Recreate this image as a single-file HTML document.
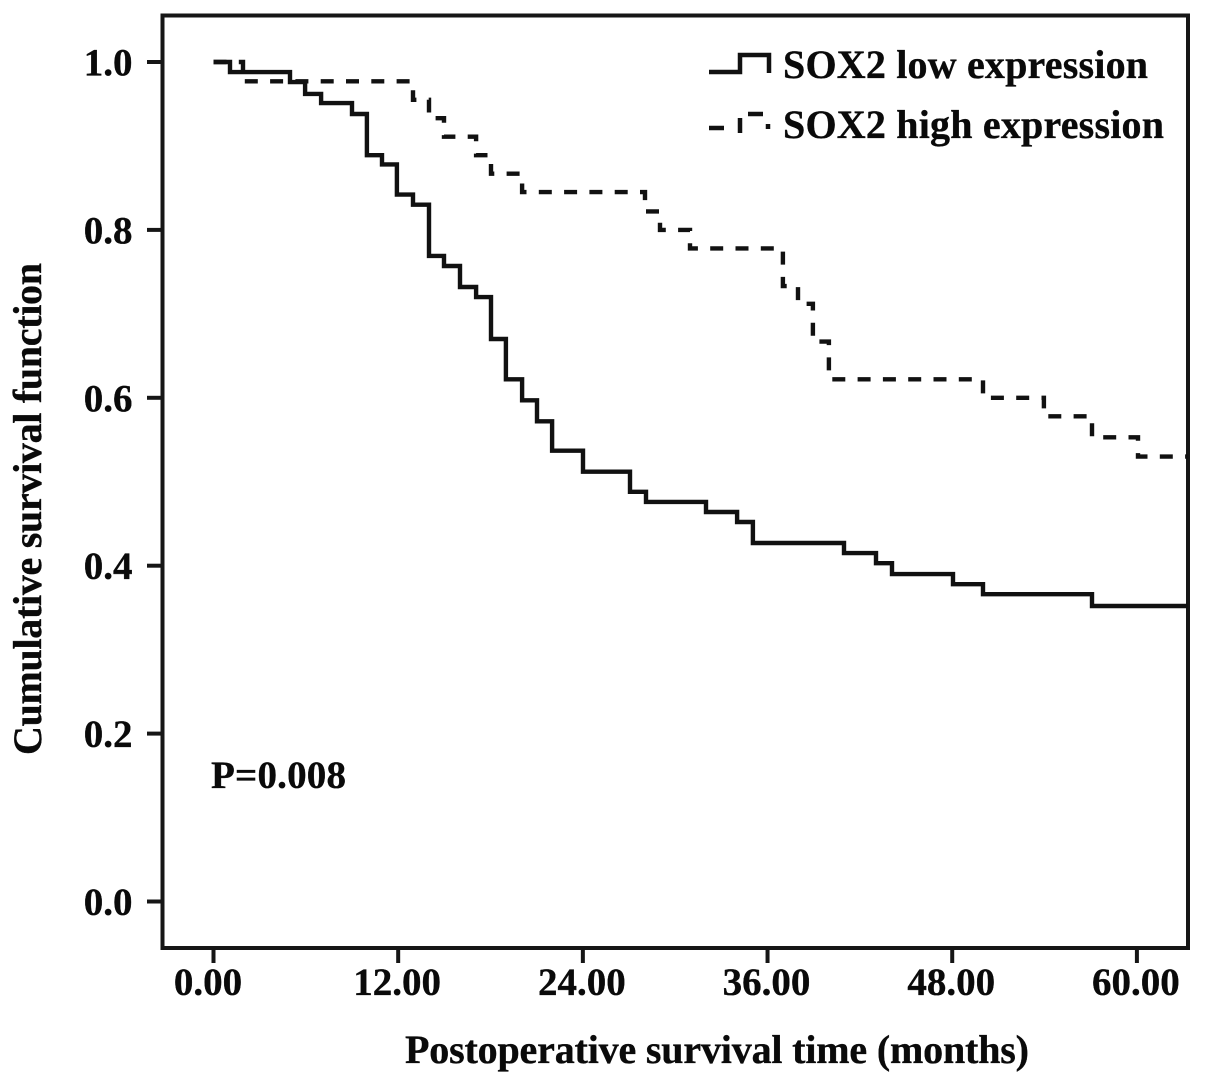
<!DOCTYPE html>
<html>
<head>
<meta charset="utf-8">
<title>Kaplan-Meier survival curve by SOX2 expression</title>
<style>
html,body{margin:0;padding:0;background:#fff;}
svg{display:block;}
text{font-family:"Liberation Serif",serif;font-weight:bold;fill:#0a0a0a;stroke:#0a0a0a;stroke-width:0.35px;}
</style>
</head>
<body>
<svg id="chart" xmlns="http://www.w3.org/2000/svg" width="1205" height="1083" viewBox="0 0 1205 1083">
  <rect x="0" y="0" width="1205" height="1083" fill="#ffffff"/>
  <rect x="162.5" y="15.5" width="1025.5" height="932.5" fill="none" stroke="#161616" stroke-width="4"/>
  <g id="y-axis"></g>
  <g id="x-axis"></g>
  <g id="series"></g>
  <text transform="translate(41,755) rotate(-90)" font-size="40" textLength="492" lengthAdjust="spacing">Cumulative survival function</text>
  <text x="405" y="1063" font-size="40" textLength="624" lengthAdjust="spacing">Postoperative survival time (months)</text>
  <text x="211" y="788" font-size="39" textLength="135" lengthAdjust="spacing">P=0.008</text>
  <g>
    <g>
      <path d="M709 72H740V55H769V73" fill="none" stroke="#111" stroke-width="4.5"/>
      <text x="783" y="78" font-size="40" textLength="365" lengthAdjust="spacing">SOX2 low expression</text>
    </g>
    <g>
      <path d="M709 128H724M740 133V118M748 114H763M768 124V129" fill="none" stroke="#111" stroke-width="4.5"/>
      <text x="783" y="138" font-size="40" textLength="381" lengthAdjust="spacing">SOX2 high expression</text>
    </g>
  </g>
</svg>
<script>
var lowTimes = [0, 1.07, 4.97, 5.95, 6.99, 9.0, 9.97, 10.95, 11.92, 12.96, 14.0, 14.98, 16.02, 17.06, 18.03, 19.0, 20.05, 21.02, 22.0, 24.01, 27.06, 28.1, 32.0, 34.02, 35.05, 40.97, 43.05, 44.09, 48.05, 50.0, 57.08];
var lowSurvival = [1.0, 0.988, 0.976, 0.962, 0.951, 0.938, 0.889, 0.878, 0.842, 0.83, 0.769, 0.757, 0.732, 0.72, 0.67, 0.622, 0.597, 0.572, 0.537, 0.512, 0.488, 0.476, 0.464, 0.452, 0.427, 0.415, 0.403, 0.39, 0.378, 0.366, 0.352];
var highTimes = [0, 1.92, 12.96, 14.0, 14.98, 17.06, 18.03, 20.05, 28.04, 29.01, 30.96, 37.0, 37.98, 38.95, 39.99, 50.0, 53.96, 57.08, 60.07];
var highSurvival = [1.0, 0.977, 0.955, 0.933, 0.911, 0.889, 0.867, 0.845, 0.822, 0.8, 0.778, 0.733, 0.712, 0.667, 0.622, 0.6, 0.578, 0.553, 0.53];
var followUpEnd = 63.3;
var xTickValues = [0, 12, 24, 36, 48, 60];
var xTickLabels = ["0.00", "12.00", "24.00", "36.00", "48.00", "60.00"];
var yTickValues = [0, 0.2, 0.4, 0.6, 0.8, 1.0];
var yTickLabels = ["0.0", "0.2", "0.4", "0.6", "0.8", "1.0"];

var SVG_NS = "http://www.w3.org/2000/svg";
function xScale(t) { return 213.5 + t * 15.39; }
function yScale(s) { return 901.5 - s * 839.5; }

function stepPath(times, values) {
  var d = "M" + xScale(times[0]).toFixed(1) + " " + yScale(values[0]).toFixed(1);
  for (var i = 1; i < times.length; i++) {
    d += "H" + xScale(times[i]).toFixed(1);
    d += "V" + yScale(values[i]).toFixed(1);
  }
  d += "H" + xScale(followUpEnd).toFixed(1);
  return d;
}

var yAxis = document.getElementById("y-axis");
yTickValues.forEach(function (v, i) {
  var tick = document.createElementNS(SVG_NS, "line");
  
  
  tick.setAttribute("x1", 147);
  tick.setAttribute("x2", 162);
  tick.setAttribute("y1", yScale(v));
  tick.setAttribute("y2", yScale(v));
  tick.setAttribute("stroke", "#161616");
  tick.setAttribute("stroke-width", 4);
  yAxis.appendChild(tick);
  var label = document.createElementNS(SVG_NS, "text");
  
  
  label.setAttribute("x", 132.5);
  label.setAttribute("y", yScale(v) + 13.5);
  label.setAttribute("text-anchor", "end");
  label.setAttribute("font-size", 39);
  label.textContent = yTickLabels[i];
  yAxis.appendChild(label);
});

var xAxis = document.getElementById("x-axis");
xTickValues.forEach(function (v, i) {
  var tick = document.createElementNS(SVG_NS, "line");
  
  
  tick.setAttribute("x1", xScale(v));
  tick.setAttribute("x2", xScale(v));
  tick.setAttribute("y1", 948);
  tick.setAttribute("y2", 963);
  tick.setAttribute("stroke", "#161616");
  tick.setAttribute("stroke-width", 4);
  xAxis.appendChild(tick);
  var label = document.createElementNS(SVG_NS, "text");
  
  
  label.setAttribute("x", xScale(v) + (i === 0 ? -5.5 : -1));
  label.setAttribute("y", 995);
  label.setAttribute("text-anchor", "middle");
  label.setAttribute("font-size", 39);
  label.textContent = xTickLabels[i];
  xAxis.appendChild(label);
});

var series = document.getElementById("series");

var highLine = document.createElementNS(SVG_NS, "path");


highLine.setAttribute("d", stepPath(highTimes, highSurvival));
highLine.setAttribute("fill", "none");
highLine.setAttribute("stroke", "#111");
highLine.setAttribute("stroke-width", 4.4);
highLine.setAttribute("stroke-dasharray", "13 12.3");
series.appendChild(highLine);

var lowLine = document.createElementNS(SVG_NS, "path");


lowLine.setAttribute("d", stepPath(lowTimes, lowSurvival));
lowLine.setAttribute("fill", "none");
lowLine.setAttribute("stroke", "#111");
lowLine.setAttribute("stroke-width", 4.4);
series.appendChild(lowLine);
</script>
</body>
</html>
